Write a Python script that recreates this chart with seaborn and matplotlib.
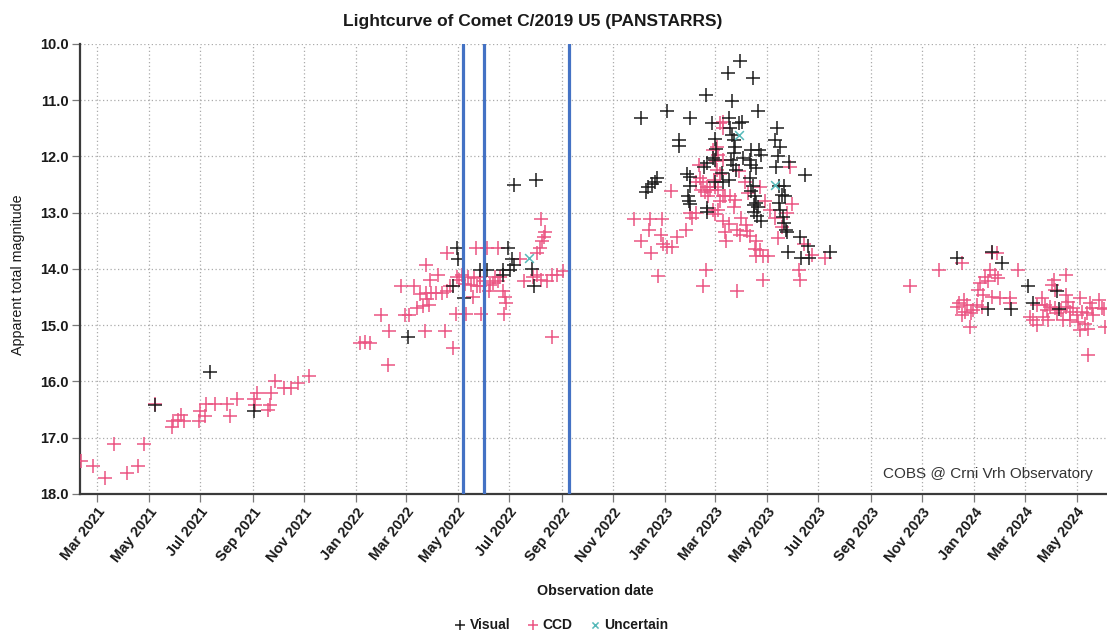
import matplotlib
matplotlib.use("Agg")
import matplotlib.pyplot as plt
import matplotlib.dates as mdates
from matplotlib.ticker import FormatStrFormatter, FixedLocator
import pandas as pd
import seaborn as sns

sns.set_theme(style="white")
plt.rcParams["font.family"] = ["Liberation Sans", "DejaVu Sans"]

# ---- observations: CCD ----
ccd_dates = [
    "2021-02-10", "2021-02-24", "2021-03-10", "2021-03-21", "2021-04-05", "2021-04-18", "2021-04-25", "2021-05-08",
    "2021-05-30", "2021-05-29", "2021-06-05", "2021-06-08", "2021-06-12", "2021-07-01", "2021-06-30", "2021-07-08",
    "2021-07-07", "2021-07-19", "2021-08-01", "2021-08-05", "2021-08-13",
    "2021-09-03", "2021-09-04", "2021-09-06", "2021-09-19", "2021-09-21", "2021-09-23", "2021-09-27", "2021-10-08",
    "2021-10-16", "2021-10-25", "2021-11-07",
    "2022-01-06", "2022-01-12", "2022-01-18", "2022-01-31", "2022-02-08", "2022-02-09", "2022-02-23", "2022-02-28",
    "2022-03-05", "2022-03-10", "2022-03-14", "2022-03-25", "2022-03-24", "2022-03-25", "2022-03-26", "2022-03-30",
    "2022-03-28", "2022-03-29", "2022-04-08", "2022-04-06", "2022-04-12", "2022-04-18", "2022-04-16", "2022-04-19",
    "2022-04-22", "2022-04-26", "2022-04-29", "2022-04-30",
    "2022-05-03", "2022-05-06", "2022-05-10", "2022-05-13", "2022-05-17", "2022-05-20", "2022-05-24", "2022-05-11",
    "2022-05-19", "2022-05-23", "2022-05-27", "2022-05-28", "2022-05-29", "2022-06-05", "2022-06-07", "2022-06-14",
    "2022-06-18", "2022-06-20", "2022-06-18", "2022-06-24", "2022-06-26", "2022-06-27", "2022-06-25", "2022-07-18",
    "2022-07-29", "2022-08-03", "2022-08-08", "2022-08-14", "2022-07-14", "2022-08-03", "2022-08-06", "2022-08-09",
    "2022-08-11", "2022-08-12", "2022-08-08", "2022-08-20", "2022-08-26", "2022-09-02", "2022-08-20", "2022-06-08",
    "2022-06-12", "2022-06-01", "2022-03-18", "2022-03-21",
    "2022-11-25", "2022-12-14", "2022-12-28", "2022-12-13", "2022-12-03", "2022-12-27", "2022-12-29", "2022-12-15",
    "2023-01-03", "2023-01-09", "2023-01-15", "2023-01-26", "2022-12-24", "2023-01-08", "2023-01-30", "2023-02-02",
    "2023-02-06", "2023-02-11", "2023-02-15", "2023-02-19", "2023-02-17", "2023-02-23", "2023-02-21", "2023-03-01",
    "2023-02-12", "2023-02-07", "2023-02-10", "2023-03-03", "2023-03-05", "2023-03-02", "2023-03-07", "2023-03-11",
    "2023-02-18", "2023-02-15", "2023-03-14", "2023-02-27", "2023-03-04",
    "2023-03-11", "2023-02-27", "2023-03-03", "2023-02-28", "2023-03-05", "2023-03-07", "2023-03-11", "2023-03-10",
    "2023-03-13", "2023-03-19", "2023-03-25", "2023-03-23", "2023-03-01", "2023-03-11", "2023-03-17", "2023-03-13",
    "2023-03-27", "2023-04-01", "2023-04-07", "2023-04-08", "2023-04-11", "2023-04-19", "2023-04-17", "2023-04-23",
    "2023-04-18", "2023-04-27", "2023-05-03", "2023-03-31", "2023-04-27", "2023-03-27", "2023-06-08", "2023-06-09",
    "2023-07-09", "2023-05-29", "2023-03-29", "2023-04-05", "2023-04-09", "2023-04-23", "2023-04-29", "2023-05-05",
    "2023-05-11", "2023-05-19", "2023-05-25", "2023-05-31", "2023-05-14", "2023-06-14", "2023-06-24", "2023-03-07",
    "2023-10-17", "2023-11-21", "2023-12-18", "2024-01-28", "2024-02-22", "2024-04-19", "2023-12-27", "2024-05-15",
    "2024-06-02",
    "2024-01-22", "2024-01-20", "2024-01-26", "2024-01-14", "2024-01-08", "2024-01-17", "2024-01-29", "2024-01-06",
    "2024-01-12", "2024-01-22", "2024-02-01", "2024-02-12", "2024-02-13", "2023-12-20", "2023-12-14", "2023-12-24",
    "2023-12-21", "2023-12-28", "2024-01-04", "2023-12-31", "2023-12-12", "2023-12-18", "2024-01-10",
    "2024-04-04", "2024-04-02", "2024-04-06", "2024-04-19", "2024-04-21", "2024-03-21", "2024-03-15", "2024-03-25",
    "2024-03-27", "2024-03-31", "2024-04-06", "2024-04-08", "2024-04-13", "2024-04-19", "2024-04-23", "2024-04-27",
    "2024-05-01", "2024-05-05", "2024-05-07", "2024-05-13", "2024-05-17", "2024-05-19", "2024-05-21", "2024-03-07",
    "2024-03-11", "2024-03-15", "2024-03-22", "2024-03-28", "2024-04-15", "2024-04-23", "2024-05-03", "2024-05-11",
    "2024-05-15", "2024-05-31", "2024-06-04", "2024-05-27", "2024-05-05",
]
ccd_mags = [
    17.41, 17.51, 17.72, 17.12, 17.62, 17.51, 17.12, 16.40,
    16.71, 16.81, 16.68, 16.60, 16.71, 16.52, 16.71, 16.40,
    16.61, 16.40, 16.40, 16.61, 16.32,
    16.31, 16.42, 16.21, 16.51, 16.42, 16.21, 16.00, 16.12,
    16.12, 16.02, 15.91,
    15.31, 15.30, 15.31, 14.81, 15.71, 15.11, 14.31, 14.81,
    14.81, 14.31, 14.70, 13.93, 15.10, 14.43, 14.54, 14.43,
    14.64, 14.20, 14.11, 14.43, 14.43, 14.40, 15.10, 13.71,
    14.31, 15.41, 14.80, 14.14,
    14.20, 14.11, 14.26, 14.14, 14.28, 14.16, 14.30, 14.80,
    14.49, 13.62, 14.14, 14.31, 14.80, 13.62, 14.40, 14.14,
    14.22, 14.14, 13.62, 14.40, 14.49, 14.61, 14.80, 14.22,
    14.14, 14.11, 14.20, 14.22, 13.82, 13.72, 13.63, 13.51,
    13.43, 13.35, 13.12, 14.11, 14.11, 14.04, 15.21, 14.28,
    14.25, 14.22, 14.45, 14.65,
    13.12, 13.12, 13.12, 13.31, 13.51, 13.40, 13.56, 13.71,
    13.61, 13.61, 13.43, 13.31, 14.12, 12.61, 13.01, 13.10,
    13.01, 12.39, 12.45, 12.54, 12.63, 12.60, 12.71, 12.54,
    12.60, 12.45, 12.15, 11.83, 11.97, 12.08, 11.41, 11.50,
    14.02, 14.31, 13.51, 12.95, 12.95,
    11.38, 11.88, 12.24, 12.42, 12.60, 12.31, 12.70, 12.06,
    12.71, 12.71, 12.77, 12.89, 13.02, 13.14, 13.20, 13.35,
    13.31, 13.09, 13.21, 13.33, 13.41, 13.51, 13.64, 13.66,
    13.77, 13.77, 13.77, 13.40, 14.20, 14.40, 14.02, 14.20,
    13.81, 12.18, 12.25, 12.45, 12.65, 12.55, 12.80, 12.95,
    13.10, 13.25, 13.00, 12.85, 13.45, 13.55, 13.75, 12.80,
    14.31, 14.02, 13.90, 13.72, 14.02, 14.11, 15.03, 15.53,
    14.72,
    13.72, 14.02, 14.11, 14.14, 14.25, 14.22, 14.16, 14.37,
    14.46, 14.49, 14.52, 14.52, 14.61, 14.55, 14.61, 14.64,
    14.76, 14.79, 14.64, 14.73, 14.67, 14.82, 14.67,
    14.20, 14.28, 14.37, 14.46, 14.58, 14.52, 14.64, 14.64,
    14.73, 14.67, 14.70, 14.79, 14.73, 14.67, 14.76, 14.70,
    14.82, 14.52, 14.76, 14.79, 14.61, 14.70, 14.82, 14.85,
    14.91, 15.00, 14.85, 14.91, 14.91, 14.91, 14.94, 14.97,
    15.06, 14.70, 15.03, 14.55, 15.08,
]

# ---- observations: visual ----
visual_dates = [
    "2021-05-08", "2021-07-13", "2021-09-03", "2022-03-03", "2022-04-30", "2022-05-01", "2022-04-26", "2022-05-08",
    "2022-05-27", "2022-06-05", "2022-06-24", "2022-06-23", "2022-06-30", "2022-07-04", "2022-07-06", "2022-07-02",
    "2022-07-07", "2022-08-01", "2022-07-28", "2022-07-30",
    "2022-12-03", "2023-01-03", "2023-01-31", "2023-02-18", "2023-01-18", "2023-01-17", "2022-12-09", "2022-12-12",
    "2022-12-16", "2022-12-20", "2022-12-23", "2023-01-27", "2023-01-31", "2023-01-30", "2023-01-28", "2023-01-29",
    "2023-01-30", "2023-02-19", "2023-02-20", "2023-02-16", "2023-02-19", "2023-02-27", "2023-02-25", "2023-03-01",
    "2023-03-02",
    "2023-03-30", "2023-03-16", "2023-04-15", "2023-03-21", "2023-04-21", "2023-03-17", "2023-03-29", "2023-04-02",
    "2023-03-19", "2023-03-21", "2023-03-23", "2023-03-25", "2023-03-24", "2023-03-20", "2023-03-22", "2023-03-26",
    "2023-03-01", "2023-04-12", "2023-04-22", "2023-04-24", "2023-04-03", "2023-04-11", "2023-04-13", "2023-04-18",
    "2023-03-09", "2023-03-17", "2023-03-11", "2023-03-01",
    "2023-04-11", "2023-04-15", "2023-04-13", "2023-04-17", "2023-04-19", "2023-04-21", "2023-04-16", "2023-04-20",
    "2023-04-24", "2023-04-16",
    "2023-05-13", "2023-05-11", "2023-05-17", "2023-05-14", "2023-05-12", "2023-05-27", "2023-06-15",
    "2023-05-15", "2023-05-21", "2023-05-19", "2023-05-23", "2023-05-16", "2023-05-17", "2023-05-20", "2023-05-22",
    "2023-05-24", "2023-05-25",
    "2023-06-09", "2023-06-19", "2023-06-10", "2023-06-20", "2023-05-26", "2023-07-15",
    "2023-12-12", "2024-01-22", "2024-02-03", "2024-03-05", "2024-03-11", "2024-04-08", "2024-04-10", "2024-01-18",
    "2024-02-14",
]
visual_mags = [
    16.42, 15.83, 16.52, 15.21, 13.62, 13.83, 14.31, 14.51,
    14.02, 14.02, 14.02, 14.11, 13.62, 13.83, 13.93, 14.02,
    12.51, 12.42, 14.00, 14.30,
    11.32, 11.20, 11.32, 10.91, 11.71, 11.81, 12.63, 12.55,
    12.49, 12.45, 12.39, 12.31, 12.37, 12.52, 12.71, 12.80,
    12.85, 12.98, 12.92, 12.19, 12.12, 12.03, 11.40, 11.69,
    11.87,
    10.31, 10.51, 10.61, 11.01, 11.20, 11.32, 11.41, 11.38,
    11.50, 11.62, 11.71, 11.83, 11.94, 12.06, 12.15, 12.24,
    12.06, 11.88, 11.88, 11.97, 12.03, 12.06, 12.15, 12.21,
    12.30, 12.42, 12.45, 12.45,
    12.38, 12.52, 12.61, 12.71, 12.82, 12.90, 12.98, 13.05,
    13.14, 12.86,
    11.50, 11.71, 11.83, 12.00, 12.18, 12.09, 12.33,
    12.53, 12.53, 12.68, 12.71, 12.83, 12.95, 13.07, 13.19,
    13.30, 13.35,
    13.43, 13.60, 13.81, 13.81, 13.69, 13.69,
    13.81, 13.70, 13.90, 14.31, 14.61, 14.40, 14.72, 14.72,
    14.72,
]

# ---- observations: uncertain ----
uncertain_dates = ["2022-07-24", "2023-03-29", "2023-05-11"]
uncertain_mags = [13.81, 11.62, 12.51]

# ---- marked dates ----
marker_dates = ["2022-05-07", "2022-06-01", "2022-09-09"]

# ---- axis settings ----
mag_ticks = [10, 11, 12, 13, 14, 15, 16, 17, 18]
date_start, date_end = "2021-02-09", "2024-06-06"

frames = []
for kind, d, m in [("CCD", ccd_dates, ccd_mags),
                   ("Visual", visual_dates, visual_mags),
                   ("Uncertain", uncertain_dates, uncertain_mags)]:
    frames.append(pd.DataFrame({"date": pd.to_datetime(d), "mag": m, "kind": kind}))
obs = pd.concat(frames, ignore_index=True)

fig = plt.figure(figsize=(11.07, 6.32), dpi=100)
ax = fig.add_axes([0.0723, 0.2184, 0.9277, 0.7120])

styles = {
    "CCD": dict(marker="+", color="#eb5583", s=90, linewidth=1.1),
    "Visual": dict(marker="+", color="#1e1e1e", s=90, linewidth=1.1),
    "Uncertain": dict(marker="x", color="#56b9b9", s=40, linewidth=1.1),
}
for kind in ["CCD", "Visual", "Uncertain"]:
    sub = obs[obs["kind"] == kind]
    sns.scatterplot(data=sub, x="date", y="mag", ax=ax, label=kind, legend=False,
                    zorder=3, **styles[kind])

for d in marker_dates:
    ax.axvline(pd.Timestamp(d), color="#4472c4", linewidth=2.3, zorder=4)

ax.set_xlim(pd.Timestamp(date_start), pd.Timestamp(date_end))
ax.set_ylim(18, 10)
ax.yaxis.set_major_locator(FixedLocator(mag_ticks))
ax.yaxis.set_major_formatter(FormatStrFormatter("%.1f"))
ax.xaxis.set_major_locator(mdates.MonthLocator(bymonth=[1, 3, 5, 7, 9, 11]))
ax.xaxis.set_major_formatter(mdates.DateFormatter("%b %Y"))

ax.grid(True, color="#ababab", linestyle=(0, (1, 2)), linewidth=0.9, zorder=0)
for side in ["top", "right"]:
    ax.spines[side].set_visible(False)
for side in ["left", "bottom"]:
    ax.spines[side].set_color("#3a3a3a")
    ax.spines[side].set_linewidth(1.6)

ax.tick_params(axis="both", which="major", length=6, width=0.9, color="#7a7a7a",
               pad=2, labelsize=10.5, labelcolor="#1a1a1a", bottom=True, left=True)
for lab in ax.get_yticklabels():
    lab.set_fontweight("bold")
for lab in ax.get_xticklabels():
    lab.set_fontweight("bold")
    lab.set_rotation(52)
    lab.set_ha("right")
    lab.set_rotation_mode("anchor")

ax.set_xlabel("")
ax.set_ylabel("")
fig.text(0.4815, 0.966, "Lightcurve of Comet C/2019 U5 (PANSTARRS)", ha="center", va="center",
         fontsize=12.5, fontweight="bold", color="#1a1a1a")
fig.text(0.5375, 0.065, "Observation date", ha="center", va="center",
         fontsize=10.3, fontweight="bold", color="#1a1a1a")
fig.text(0.016, 0.565, "Apparent total magnitude", ha="center", va="center", rotation=90,
         fontsize=10.3, color="#1a1a1a")
fig.text(0.9874, 0.25, "COBS @ Crni Vrh Observatory", ha="right", va="center",
         fontsize=11, color="#333333")

handles, labels = ax.get_legend_handles_labels()
order = [labels.index(k) for k in ["Visual", "CCD", "Uncertain"]]
leg = fig.legend([handles[i] for i in order], [labels[i] for i in order],
                 loc="center", bbox_to_anchor=(0.506, 0.011), ncol=3, frameon=False,
                 fontsize=10, handletextpad=0.1, columnspacing=1.0, handlelength=1.2,
                 markerscale=0.7)
for t in leg.get_texts():
    t.set_fontweight("bold")
    t.set_color("#1a1a1a")

fig.savefig("out.png", dpi=100)
